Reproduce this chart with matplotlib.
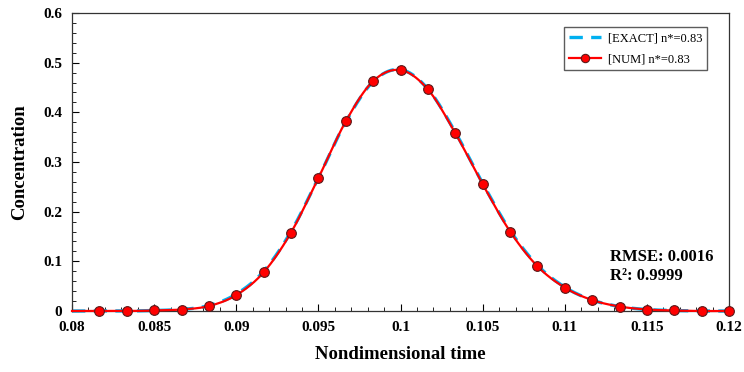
import numpy as np
import matplotlib
matplotlib.use("Agg")
import matplotlib.pyplot as plt
from matplotlib.ticker import MultipleLocator, FuncFormatter

# data
time = [0.08, 0.081667, 0.083333, 0.085, 0.086667, 0.088333, 0.09, 0.091667,
        0.093333, 0.095, 0.096667, 0.098333, 0.1, 0.101667, 0.103333, 0.105,
        0.106667, 0.108333, 0.11, 0.111667, 0.113333, 0.115, 0.116667,
        0.118333, 0.12]
conc_exact = [0.0, 0.0, 0.0, 0.001, 0.003, 0.011, 0.034, 0.080, 0.160, 0.268,
              0.381, 0.462, 0.486, 0.447, 0.360, 0.257, 0.162, 0.092, 0.048,
              0.022, 0.009, 0.003, 0.001, 0.0, 0.0]
conc_num = [0.0, 0.0, 0.0, 0.001, 0.003, 0.010, 0.032, 0.078, 0.158, 0.268,
            0.382, 0.463, 0.485, 0.446, 0.358, 0.255, 0.160, 0.090, 0.047,
            0.022, 0.009, 0.003, 0.001, 0.0, 0.0]
exact_label = "[EXACT] n*=0.83"
num_label = "[NUM] n*=0.83"
stats = "RMSE: 0.0016\nR²: 0.9999"


def smooth(x, y, n=20):
    # Catmull-Rom path through the points, like a spreadsheet "smoothed line"
    x = np.asarray(x, float)
    y = np.asarray(y, float)
    px = np.concatenate([[x[0]], x, [x[-1]]])
    py = np.concatenate([[y[0]], y, [y[-1]]])
    xs, ys = [], []
    t = np.linspace(0, 1, n, endpoint=False)
    for i in range(1, len(px) - 2):
        for p, out in ((px, xs), (py, ys)):
            p0, p1, p2, p3 = p[i - 1], p[i], p[i + 1], p[i + 2]
            out.extend(0.5 * (2 * p1 + (-p0 + p2) * t
                              + (2 * p0 - 5 * p1 + 4 * p2 - p3) * t ** 2
                              + (-p0 + 3 * p1 - 3 * p2 + p3) * t ** 3))
    xs.append(x[-1])
    ys.append(y[-1])
    return np.array(xs), np.array(ys)


plt.rcParams['font.family'] = ['Liberation Serif', 'DejaVu Serif']

fig = plt.figure(figsize=(7.44, 3.72), dpi=100)
ax = fig.add_axes([0.0968, 0.164, 0.8832, 0.801])

ex, ey = smooth(time, conc_exact)
ax.plot(ex, ey, color='#00B0F0', lw=2.4, dashes=(4, 2.5), label=exact_label,
        zorder=2, clip_on=False)
nx, ny = smooth(time, conc_num)
ax.plot(nx, ny, color='#FF0000', lw=1.6, zorder=3, clip_on=False)
ax.plot(time[1:], conc_num[1:], 'o', color='#FF0000', ms=7, mec='#5a1a1a',
        mew=0.8, zorder=4, clip_on=False)
# legend proxy for the numerical series
ax.plot([], [], '-o', color='#FF0000', lw=1.6, ms=6, mec='#5a1a1a', mew=0.8,
        label=num_label)

ax.set_xlim(0.08, 0.12)
ax.set_ylim(0, 0.6)
ax.xaxis.set_major_locator(MultipleLocator(0.005))
ax.xaxis.set_minor_locator(MultipleLocator(0.001))
ax.yaxis.set_major_locator(MultipleLocator(0.1))
ax.yaxis.set_minor_locator(MultipleLocator(0.02))
ax.xaxis.set_major_formatter(FuncFormatter(lambda v, p: f"{v:.3f}".rstrip('0').rstrip('.')))
ax.yaxis.set_major_formatter(FuncFormatter(lambda v, p: f"{v:.1f}".rstrip('0').rstrip('.') if v else "0"))
ax.tick_params(which='both', direction='in', top=False, right=False,
               labelsize=11, pad=7)
ax.tick_params(which='major', length=5)
ax.tick_params(which='minor', length=3)
for lab in ax.get_xticklabels() + ax.get_yticklabels():
    lab.set_fontweight('bold')
for sp in ax.spines.values():
    sp.set_linewidth(0.9)
    sp.set_color('#333333')

ax.set_xlabel("Nondimensional time", fontsize=13.5, fontweight='bold', labelpad=9)
ax.set_ylabel("Concentration", fontsize=13.5, fontweight='bold', labelpad=11)

leg = ax.legend(loc='upper right', bbox_to_anchor=(0.9665, 0.953), fontsize=9,
                frameon=True, fancybox=False, handlelength=2.6,
                borderpad=0.4, labelspacing=0.75, handletextpad=0.5,
                borderaxespad=0)
leg.get_frame().set_edgecolor('#333333')
leg.get_frame().set_linewidth(1.0)

ax.text(0.818, 0.09, stats, transform=ax.transAxes, fontsize=12,
        fontweight='bold', va='bottom', ha='left', linespacing=1.3)

fig.savefig("out.png", dpi=100)
